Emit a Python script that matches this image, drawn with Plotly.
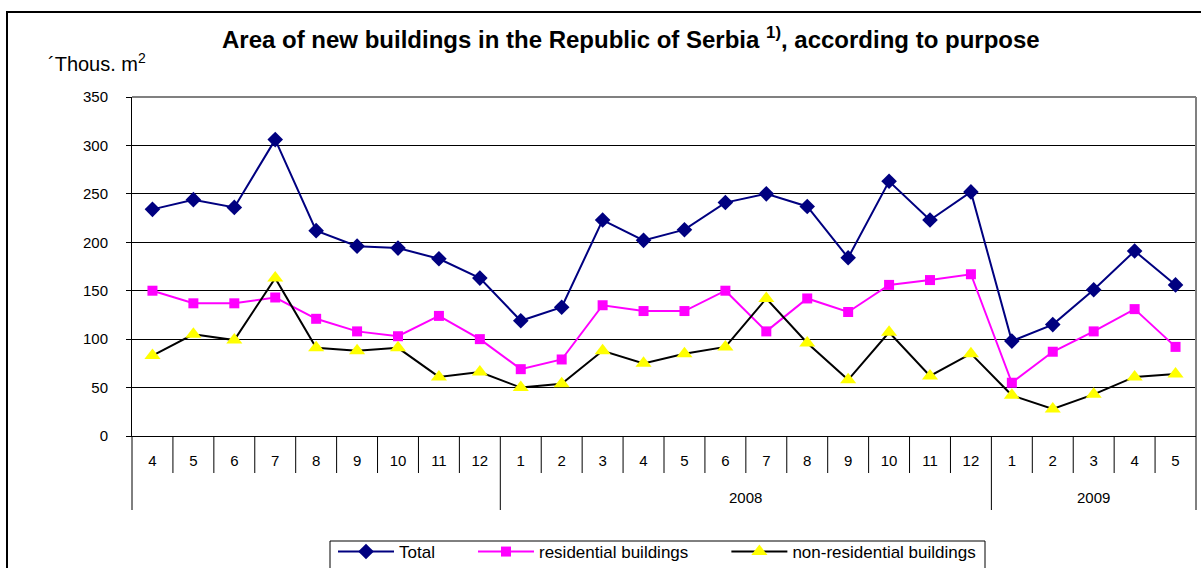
import plotly.graph_objects as go

group_labels = ["", "2008", "2009"]
group_sizes = [9, 12, 5]
months = ["4", "5", "6", "7", "8", "9", "10", "11", "12",
          "1", "2", "3", "4", "5", "6", "7", "8", "9", "10", "11", "12",
          "1", "2", "3", "4", "5"]

total = [234, 244, 236, 306, 212, 196, 194, 183, 163,
         119, 133, 223, 202, 213, 241, 250, 237, 184, 263, 223, 252,
         98, 115, 151, 191, 156]
residential = [150, 137, 137, 143, 121, 108, 103, 124, 100,
               69, 79, 135, 129, 129, 150, 108, 142, 128, 156, 161, 167,
               55, 87, 108, 131, 92]
non_residential = [83, 105, 99, 163, 91, 88, 91, 61, 66,
                   50, 54, 88, 75, 85, 92, 142, 96, 58, 107, 62, 85,
                   42, 28, 43, 61, 64]

# unique category keys (group index + month)
cats = []
for g, n in enumerate(group_sizes):
    start = sum(group_sizes[:g])
    for m in months[start:start + n]:
        cats.append(f"{g}-{m}")
N = len(cats)

FONT = "Arial, Liberation Sans, sans-serif"
PAD = "\u00a0" * 7

fig = go.Figure()
fig.add_trace(go.Scatter(
    x=cats, y=total, name="Total" + PAD, mode="lines+markers",
    line=dict(color="#000080", width=2),
    marker=dict(symbol="diamond", size=12, color="#000080")))
fig.add_trace(go.Scatter(
    x=cats, y=residential, name="residential buildings" + PAD, mode="lines+markers",
    line=dict(color="#FF00FF", width=2),
    marker=dict(symbol="square", size=10, color="#FF00FF")))
fig.add_trace(go.Scatter(
    x=cats, y=non_residential, name="non-residential buildings", mode="lines+markers",
    line=dict(color="#000000", width=2),
    marker=dict(symbol="triangle-up", size=14, color="#FFFF00")))

L, R, T, B = 132, 1196, 97, 436
W, H = 1201, 568
pw, ph = R - L, B - T

def px(x):
    return (x - L) / pw

def py(y):
    return (B - y) / ph

def bx(b):
    # boundary b (in category units, -0.5 .. N-0.5) to paper x
    return (b + 0.5) / N

shapes = [
    dict(type="rect", xref="paper", yref="paper", x0=px(7), x1=px(1210), y0=py(590), y1=py(12),
         line=dict(color="black", width=2), layer="below"),
    dict(type="line", xref="paper", yref="paper", x0=0, x1=1, y0=1, y1=1,
         line=dict(color="#808080", width=2)),
    dict(type="line", xref="paper", yref="paper", x0=1, x1=1, y0=0, y1=1,
         line=dict(color="#808080", width=2)),
    # legend frame
    dict(type="rect", xref="paper", yref="paper", x0=px(330), x1=px(985), y0=py(600), y1=py(541),
         line=dict(color="black", width=1)),
]
group_bounds = [-0.5]
for n in group_sizes:
    group_bounds.append(group_bounds[-1] + n)
for i in range(N + 1):
    b = i - 0.5
    long = b in group_bounds
    shapes.append(dict(type="line", xref="paper", yref="paper", x0=bx(b), x1=bx(b),
                       y0=0, y1=py(510 if long else 473),
                       line=dict(color="black", width=1)))

annotations = [
    dict(text="<b>Area of new buildings in the Republic of Serbia <sup>1)</sup>, according to purpose</b>",
         xref="paper", yref="paper", x=px(631), y=py(38), xanchor="center", yanchor="middle",
         showarrow=False, font=dict(size=24, family=FONT)),
    dict(text="´Thous. m<sup>2</sup>", xref="paper", yref="paper", x=px(46), y=py(63),
         xanchor="left", yanchor="middle", showarrow=False, font=dict(size=20, family=FONT)),
]
for g, lab in enumerate(group_labels):
    if lab:
        annotations.append(dict(text=lab, xref="paper", yref="paper",
                                x=(bx(group_bounds[g]) + bx(group_bounds[g + 1])) / 2, y=py(497),
                                xanchor="center", yanchor="middle", showarrow=False,
                                font=dict(size=15, family=FONT)))

fig.update_layout(
    width=W, height=H,
    margin=dict(l=L, r=W - R, t=T, b=H - B, autoexpand=False),
    paper_bgcolor="white", plot_bgcolor="white",
    font=dict(family=FONT, color="black", size=15),
    showlegend=True,
    legend=dict(orientation="h", x=px(333), y=py(534), xanchor="left", yanchor="top",
                borderwidth=0, bgcolor="rgba(0,0,0,0)", font=dict(size=17, family=FONT),
                tracegroupgap=0, itemwidth=56),
    xaxis=dict(type="category", range=[-0.5, N - 0.5], tickmode="array", tickvals=cats,
               ticktext=months, ticks="", ticklabelstandoff=11, showline=True,
               linecolor="black", linewidth=1, showgrid=False,
               tickfont=dict(size=15, family=FONT)),
    yaxis=dict(range=[0, 350], dtick=50, showgrid=True, gridcolor="black", gridwidth=1,
               showline=True, linecolor="black", linewidth=1, ticks="outside", ticklen=5,
               tickcolor="black", ticklabelstandoff=15, tickfont=dict(size=15, family=FONT),
               zeroline=False),
    annotations=annotations,
    shapes=shapes,
)

fig.write_html("out.html", config={"displayModeBar": False},
               post_script="document.body.style.margin='0';document.body.style.overflow='hidden';")
